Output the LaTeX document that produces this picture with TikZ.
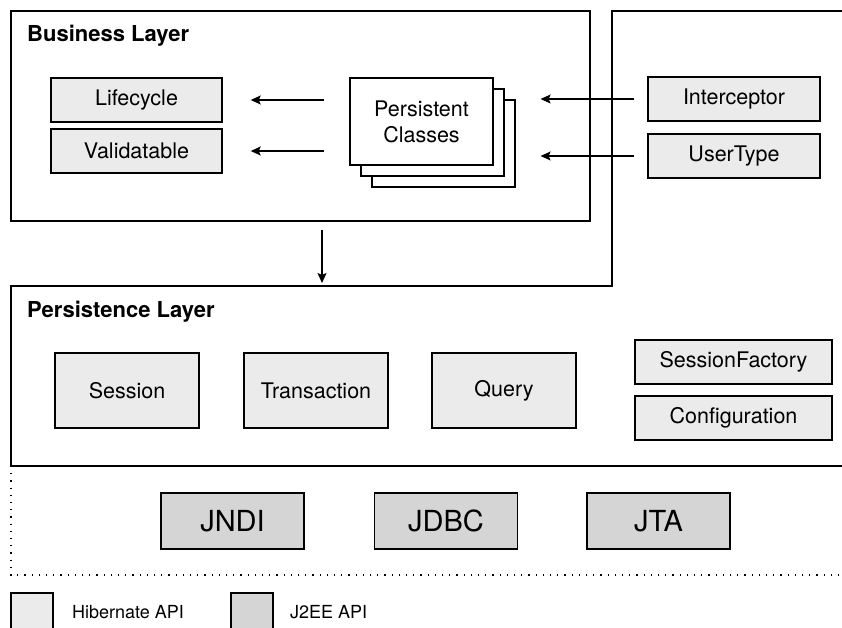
\documentclass[tikz,border=0pt]{standalone}
\usepackage{fontspec}
\setmainfont{TeX Gyre Heros}
\usetikzlibrary{arrows.meta}
\definecolor{hibgray}{HTML}{EAEBEA}
\definecolor{jeegray}{HTML}{D4D5D4}

\begin{document}
\begin{tikzpicture}[x=1pt,y=-1pt]
\tikzstyle{layer}=[draw,line width=1.5pt]
\tikzstyle{hib}=[draw,line width=1.4pt,fill=hibgray,inner sep=0pt,font=\fontsize{21.5}{25}\selectfont]
\tikzstyle{jee}=[draw,line width=1.4pt,fill=jeegray,inner sep=0pt,minimum width=143pt,minimum height=56pt,font=\fontsize{29}{33}\selectfont]
\tikzstyle{pcls}=[draw,line width=1.2pt,fill=white,inner sep=0pt,minimum width=143pt,minimum height=87pt,align=center,font=\fontsize{21.5}{26}\selectfont]
\tikzstyle{title}=[anchor=base west,inner sep=0pt,font=\fontsize{22}{26}\selectfont\bfseries]
\tikzstyle{legend}=[anchor=base west,inner sep=0pt,font=\fontsize{18}{22}\selectfont]
\tikzstyle{arr}=[line width=1.2pt,-{Stealth[length=10pt,width=9pt,inset=2pt]}]
\useasboundingbox (0,0) rectangle (842,628);

\node[layer,minimum width=579pt,minimum height=210pt,inner sep=0pt] (bl) at (300.5,116) {};
\draw[layer] (842,11) -- (612,11) -- (612,286) -- (11,286) -- (11,466) -- (842,466);
\draw[line width=1.2pt,dash pattern=on 1.2pt off 6pt] (11,466) -- (11,575) -- (842,575);
\node[title] (bltitle) at (27,42) {Business Layer};
\node[title] (pltitle) at (27,317) {Persistence Layer};

\node[hib,minimum width=171pt,minimum height=44pt] (life) at (136.5,100) {Lifecycle};
\node[hib,minimum width=171pt,minimum height=44pt] (valid) at (136.5,151) {Validatable};
\node[pcls] (pc3) at (443.5,143.5) {};
\node[pcls] (pc2) at (432.5,132.5) {};
\node[pcls] (pc) at (421.5,121.5) {Persistent\\Classes};
\node[hib,minimum width=172pt,minimum height=44pt] (icpt) at (734,99) {Interceptor};
\node[hib,minimum width=172pt,minimum height=44pt] (utype) at (734,156) {UserType};

\draw[arr,shorten <=25pt,shorten >=28pt] (life.east -| pc.west) -- (life.east);
\draw[arr,shorten <=25pt,shorten >=28pt] (valid.east -| pc.west) -- (valid.east);
\draw[arr,shorten <=13pt,shorten >=25pt] (icpt.west) -- (icpt.west -| pc3.east);
\draw[arr,shorten <=13pt,shorten >=25pt] (utype.west) -- (utype.west -| pc3.east);

\coordinate (pltop) at (322,286);
\draw[arr,shorten <=8pt,shorten >=3pt] (bl.south -| pltop) -- (pltop);

\node[hib,minimum width=144pt,minimum height=75pt] (sess) at (127,390.5) {Session};
\node[hib,minimum width=144pt,minimum height=75pt] (tx) at (316,390.5) {Transaction};
\node[hib,minimum width=144pt,minimum height=75pt] (query) at (504,390.5) {Query};
\node[hib,minimum width=197pt,minimum height=44pt] (sfact) at (733.5,362) {SessionFactory};
\node[hib,minimum width=197pt,minimum height=44pt] (conf) at (733.5,418) {Configuration};

\node[jee] (jndi) at (232.5,521) {JNDI};
\node[jee] (jdbc) at (446,521) {JDBC};
\node[jee] (jta) at (658.5,521) {JTA};

\node[hib,minimum width=42pt,minimum height=42pt] (keyhib) at (32,614) {};
\node[legend] (hibtext) at (72,618) {Hibernate API};
\node[hib,fill=jeegray,minimum width=42pt,minimum height=42pt] (keyjee) at (252,614) {};
\node[legend] (jeetext) at (290,618) {J2EE API};
\end{tikzpicture}
\end{document}
